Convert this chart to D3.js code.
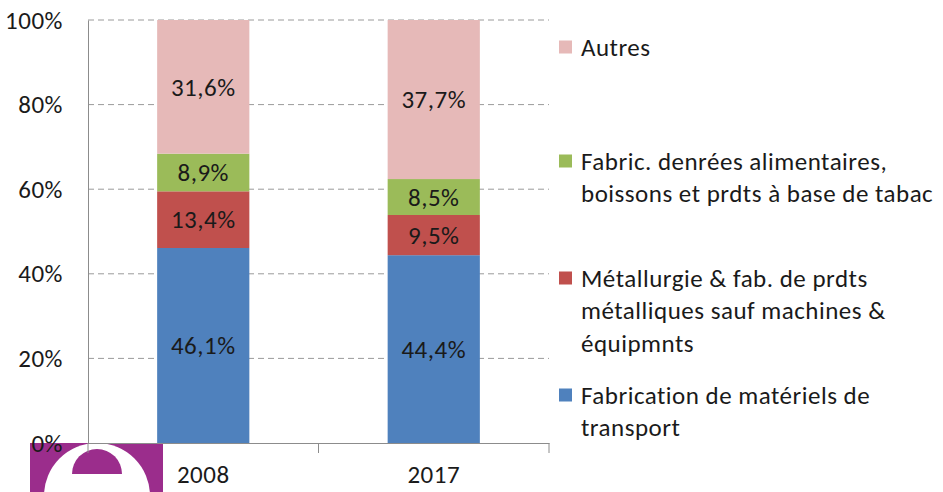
<!DOCTYPE html>
<html>
<head>
<meta charset="utf-8">
<script src="https://cdn.jsdelivr.net/npm/d3@7"></script>
<style>
  body { margin: 0; background: #fff; }
  text { font-family: Carlito, Calibri, Lato, sans-serif; fill: #1a1a1a; letter-spacing: 0.5px; }
</style>
</head>
<body>
<script>
'use strict';

// categories and series (share in %)
const years = ["2008", "2017"];
const seriesNames = ["Fabrication de matériels de transport",
  "Métallurgie & fab. de prdts métalliques sauf machines & équipmnts",
  "Fabric. denrées alimentaires, boissons et prdts à base de tabac",
  "Autres"];
const transport = [46.1, 44.4];
const metallurgie = [13.4, 9.5];
const alimentaire = [8.9, 8.5];
const autres = [31.6, 37.7];
const yTicks = [0, 20, 40, 60, 80, 100];
// legend text lines, top entry first
const legendLines = [
  ["Autres"],
  ["Fabric. denrées alimentaires,", "boissons et prdts à base de tabac"],
  ["Métallurgie & fab. de prdts", "métalliques sauf machines &", "équipmnts"],
  ["Fabrication de matériels de", "transport"]
];
const colors = ["#4F81BD", "#C0504D", "#9BBB59", "#E6B9B8"];

const width = 943, height = 492;
const fontSize = "25px";
const svg = d3.select("body").append("svg")
  .attr("width", width)
  .attr("height", height);

// scales
let x = d3.scaleBand().domain(years).range([88, 549]).paddingInner(0.6).paddingOuter(0.3);
let y = d3.scaleLinear().domain([0, 100]).range([443, 20]);

// build stacked data
let rows = years.map((yr, i) => ({
  year: yr, s0: transport[i], s1: metallurgie[i], s2: alimentaire[i], s3: autres[i]
}));
let stack = d3.stack().keys(["s0", "s1", "s2", "s3"])(rows);

// logo at bottom left (drawn first, text goes over it)
let logo = svg.append("g");
logo.append("rect").attr("x", 30).attr("y", 443).attr("width", 133).attr("height", 49).attr("fill", "#9B2D8C");
logo.append("circle").attr("cx", 97).attr("cy", 496).attr("r", 53).attr("fill", "#fff");
logo.append("path")
  .attr("transform", "translate(97,474)")
  .attr("d", d3.arc()({innerRadius: 0, outerRadius: 25, startAngle: -Math.PI / 2, endAngle: Math.PI / 2}))
  .attr("fill", "#9B2D8C");

// gridlines
svg.append("g")
  .selectAll("line")
  .data(yTicks.filter(d => d > 0))
  .enter()
  .append("line")
    .attr("x1", 88).attr("x2", 549)
    .attr("y1", d => y(d)).attr("y2", d => y(d))
    .attr("stroke", "#9a9a9a")
    .attr("stroke-width", 1)
    .attr("stroke-dasharray", "6,4");

// y axis
let yAxis = d3.axisLeft(y).tickValues(yTicks).tickSize(0).tickPadding(25).tickFormat(d => d + "%");
let gy = svg.append("g").attr("transform", "translate(88,0)").call(yAxis);
gy.select(".domain").attr("stroke", "#8c8c8c");
gy.selectAll("text").style("font-size", fontSize).attr("fill", "#1a1a1a").attr("font-family", null);

// bars
svg.append("g")
  .selectAll("g")
  .data(stack)
  .enter()
  .append("g")
    .attr("fill", (d, i) => colors[i])
  .selectAll("rect")
  .data(d => d)
  .enter()
  .append("rect")
    .attr("x", d => x(d.data.year))
    .attr("width", x.bandwidth())
    .attr("y", d => y(Math.min(d[1], 100)))
    .attr("height", d => y(d[0]) - y(Math.min(d[1], 100)));

// data labels
svg.append("g")
  .selectAll("g")
  .data(stack)
  .enter()
  .append("g")
  .selectAll("text")
  .data(d => d.map(p => ({p: p, v: p.data[d.key]})))
  .enter()
  .append("text")
    .attr("x", d => x(d.p.data.year) + x.bandwidth() / 2)
    .attr("y", d => y((d.p[0] + Math.min(d.p[1], 100)) / 2))
    .attr("dy", "0.35em")
    .attr("text-anchor", "middle")
    .style("font-size", fontSize)
    .text(d => d.v.toFixed(1).replace(".", ",") + "%");

// x axis
let xAxis = d3.axisBottom(x).tickSize(0).tickPadding(22);
let gx = svg.append("g").attr("transform", "translate(0,443)").call(xAxis);
gx.select(".domain").attr("stroke", "#8c8c8c");
gx.selectAll("text").style("font-size", fontSize).attr("fill", "#1a1a1a").attr("font-family", null);
// tick marks between categories
let step = x.step();
let edges = [88, x("2008") + x.bandwidth() / 2 + step / 2, 549];
gx.selectAll(".edge")
  .data(edges)
  .enter()
  .append("line")
    .attr("x1", d => d).attr("x2", d => d)
    .attr("y1", 0).attr("y2", 10)
    .attr("stroke", "#8c8c8c");

// legend
let legendTop = [47, 161, 278, 395];
let legendColors = [colors[3], colors[2], colors[1], colors[0]];
let legend = svg.append("g");
legendLines.forEach((lines, i) => {
  legend.append("rect")
    .attr("x", 559).attr("y", legendTop[i] - 6.5)
    .attr("width", 13).attr("height", 13)
    .attr("fill", legendColors[i]);
  lines.forEach((line, j) => {
    legend.append("text")
      .attr("x", 581)
      .attr("y", legendTop[i] + j * 32.5)
      .attr("dy", "0.35em")
      .style("font-size", fontSize)
      .text(line);
  });
});
</script>
</body>
</html>
